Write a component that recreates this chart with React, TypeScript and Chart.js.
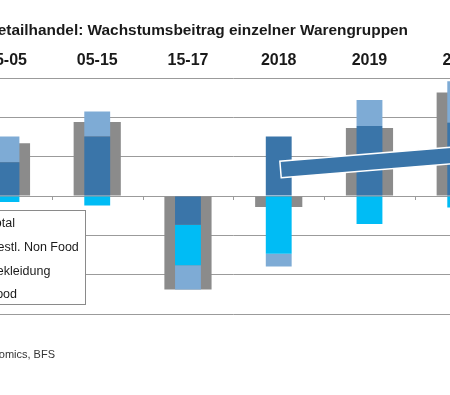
import React, { useEffect, useRef } from "react";
import { Chart, registerables } from "chart.js";

Chart.register(...registerables);

// ---- data ----
const categories = ["95-05", "05-15", "15-17", "2018", "2019", "2020"];
const food = [0.86, 1.51, -0.73, 1.51, 1.78, 1.86];
const bekleidung = [-0.15, -0.24, -1.03, -1.47, -0.71, -0.29];
const restNonFood = [0.65, 0.64, -0.62, -0.32, 0.66, 1.06];
const total = [1.34, 1.88, -2.38, -0.28, 1.73, 2.63];
const yMin = -3;
const yMax = 3;
const yStep = 1;
const title = "Detailhandel: Wachstumsbeitrag einzelner Warengruppen";
const source = "Quelle: BAK Economics, BFS";
const legendLabels = ["Total", "Restl. Non Food", "Bekleidung", "Food"];
// trend arrow annotation (category index, value)
const arrowFrom = [3.02, 0.675];
const arrowTo = [5.6, 1.16];

// ---- styling ----
const FONT = "'Liberation Sans', Arial, sans-serif";
const C_FOOD = "#3a75a9";
const C_BEKL = "#00bcf5";
const C_REST = "#7eabd5";
const C_TOTAL = "#8b8b8b";
const C_GRID = "#9b9b9b";
const OFFSET = 60; // canvas is shifted left: the reference is a crop
const CW = 600;
const CH = 395;

const colorFor: Record<string, string> = {
  Total: C_TOTAL,
  "Restl. Non Food": C_REST,
  Bekleidung: C_BEKL,
  Food: C_FOOD,
};

const decorPlugin = {
  id: "decor",
  afterDatasetsDraw(chart: any) {
    const ctx = chart.ctx;
    const xs = chart.scales.x;
    const ys = chart.scales.y;
    const area = chart.chartArea;
    // axis tick marks at zero line, between categories
    const y0 = ys.getPixelForValue(0);
    const n = categories.length;
    const w = (area.right - area.left) / n;
    ctx.save();
    ctx.strokeStyle = C_GRID;
    ctx.lineWidth = 1;
    for (let k = 0; k <= n; k++) {
      const x = Math.round(area.left + k * w) + 0.5;
      ctx.beginPath();
      ctx.moveTo(x, y0);
      ctx.lineTo(x, y0 + 4);
      ctx.stroke();
    }
    // trend arrow
    const x1 = xs.getPixelForValue(arrowFrom[0]);
    const y1 = ys.getPixelForValue(arrowFrom[1]);
    const x2 = xs.getPixelForValue(arrowTo[0]);
    const y2 = ys.getPixelForValue(arrowTo[1]);
    const len = Math.hypot(x2 - x1, y2 - y1);
    const dx = (x2 - x1) / len;
    const dy = (y2 - y1) / len;
    const nx = -dy;
    const ny = dx;
    const h = 8.3;
    const H = 17;
    const headLen = 24;
    const sx = x2 - dx * headLen;
    const sy = y2 - dy * headLen;
    ctx.beginPath();
    ctx.moveTo(x1 + nx * h, y1 + ny * h);
    ctx.lineTo(sx + nx * h, sy + ny * h);
    ctx.lineTo(sx + nx * H, sy + ny * H);
    ctx.lineTo(x2, y2);
    ctx.lineTo(sx - nx * H, sy - ny * H);
    ctx.lineTo(sx - nx * h, sy - ny * h);
    ctx.lineTo(x1 - nx * h, y1 - ny * h);
    ctx.closePath();
    ctx.fillStyle = C_FOOD;
    ctx.fill();
    ctx.strokeStyle = "#ffffff";
    ctx.lineWidth = 1.5;
    ctx.lineJoin = "miter";
    ctx.stroke();
    ctx.restore();
  },
  afterDraw(chart: any) {
    const ctx = chart.ctx;
    ctx.save();
    // title
    ctx.fillStyle = "#1a1a1a";
    ctx.font = `bold 15.4px ${FONT}`;
    ctx.textAlign = "right";
    ctx.textBaseline = "alphabetic";
    ctx.fillText(title, 408 + OFFSET, 34.5);
    // source
    ctx.font = `11px ${FONT}`;
    ctx.fillStyle = "#333333";
    ctx.fillText(source, 55 + OFFSET, 357.5);
    // legend box
    const bx = OFFSET - 45;
    const bTop = 210.5;
    const bRight = 85.5 + OFFSET;
    const bBottom = 304.5;
    ctx.fillStyle = "#ffffff";
    ctx.fillRect(bx, bTop, bRight - bx, bBottom - bTop);
    ctx.strokeStyle = "#8a8a8a";
    ctx.lineWidth = 1;
    ctx.strokeRect(bx, bTop, bRight - bx, bBottom - bTop);
    ctx.font = `12.5px ${FONT}`;
    ctx.textAlign = "left";
    ctx.textBaseline = "middle";
    legendLabels.forEach((lab, i) => {
      const cy = 224 + i * 23.6;
      ctx.fillStyle = colorFor[lab];
      ctx.fillRect(OFFSET - 35, cy - 5, 14, 10);
      ctx.fillStyle = "#1a1a1a";
      ctx.fillText(lab, OFFSET - 11.5, cy);
    });
    ctx.restore();
  },
};

export default function App() {
  const ref = useRef<HTMLCanvasElement>(null);
  useEffect(() => {
    const canvas = ref.current;
    if (!canvas) return;
    const partW = 0.285;
    const totW = 0.52;
    const chart = new Chart(canvas, {
      type: "bar",
      data: {
        labels: categories,
        datasets: [
          { label: "Food", data: food, backgroundColor: C_FOOD, stack: "parts", grouped: false, order: 1, barPercentage: partW, categoryPercentage: 1 },
          { label: "Bekleidung", data: bekleidung, backgroundColor: C_BEKL, stack: "parts", grouped: false, order: 1, barPercentage: partW, categoryPercentage: 1 },
          { label: "Restl. Non Food", data: restNonFood, backgroundColor: C_REST, stack: "parts", grouped: false, order: 1, barPercentage: partW, categoryPercentage: 1 },
          { label: "Total", data: total, backgroundColor: C_TOTAL, stack: "total", grouped: false, order: 2, barPercentage: totW, categoryPercentage: 1 },
        ] as any,
      },
      options: {
        animation: false,
        responsive: false,
        maintainAspectRatio: false,
        layout: { padding: { left: 21.1, right: 34.4, top: 42.8, bottom: 81 } },
        plugins: {
          legend: { display: false },
          tooltip: { enabled: false },
          title: { display: false },
        },
        scales: {
          x: {
            position: "top",
            grid: { display: false, drawTicks: false },
            border: { display: false },
            ticks: {
              padding: 8,
              autoSkip: false,
              maxRotation: 0,
              color: "#1a1a1a",
              font: { family: FONT, size: 16, weight: "bold" },
            },
          },
          y: {
            stacked: true,
            min: yMin,
            max: yMax,
            ticks: { display: false, stepSize: yStep },
            grid: { color: C_GRID, lineWidth: 1, drawTicks: false },
            border: { display: false },
          },
        },
      },
      plugins: [decorPlugin],
    } as any);
    return () => chart.destroy();
  }, []);
  return (
    <div style={{ position: "fixed", left: 0, top: 0, width: 450, height: CH, overflow: "hidden", background: "#fff" }}>
      <div style={{ position: "absolute", left: -OFFSET, top: 0, width: CW, height: CH }}>
        <canvas ref={ref} width={CW} height={CH} style={{ display: "block", width: CW, height: CH }} />
      </div>
    </div>
  );
}
